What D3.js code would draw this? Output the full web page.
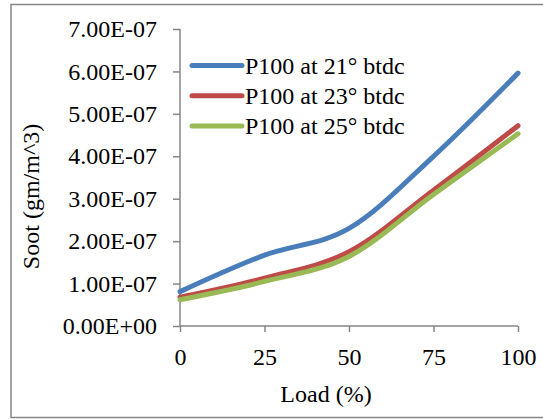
<!DOCTYPE html>
<html>
<head>
	<title>Soot vs Load</title>
</head>
<style type="text/css">
	html, body {margin:0px; padding:0px; background:#fff;}
	svg {display:block;}
	text {font-family: "Liberation Serif", "Times New Roman", serif; fill:#000;}
</style>
<body>

	<svg width="543" height="419"></svg>

<script src="https://d3js.org/d3.v7.min.js"></script>
<script type="text/javascript">

	// data
	const load = [0, 25, 50, 75, 100];
	const p21 = [8.1e-8, 1.67e-7, 2.30e-7, 4.0e-7, 5.96e-7];
	const p23 = [6.8e-8, 1.13e-7, 1.75e-7, 3.2e-7, 4.72e-7];
	const p25 = [6.2e-8, 1.05e-7, 1.64e-7, 3.1e-7, 4.53e-7];
	const seriesNames = ['P100 at 21\u00b0 btdc', 'P100 at 23\u00b0 btdc', 'P100 at 25\u00b0 btdc'];
	const seriesCols = ['#4a7ebb', '#be4b48', '#98b954'];
	const yTicks = [0, 1e-7, 2e-7, 3e-7, 4e-7, 5e-7, 6e-7, 7e-7];
	const xTicks = [0, 25, 50, 75, 100];

	const svg = d3.select('svg');
	const axisCol = '#868686';

	// outer chart border (right edge is cut off in the original)
	svg.append('rect')
		.attr('x', 11).attr('y', 4.5)
		.attr('width', 560).attr('height', 413)
		.attr('fill', '#fff')
		.attr('stroke', axisCol)
		.attr('stroke-width', 1.5);

	let x = d3.scaleLinear().domain([0, 100]).range([180, 518]);
	let y = d3.scaleLinear().domain([0, 7e-7]).range([326, 29]);

	function fmt(v) {
		if (v === 0) return '0.00E+00';
		let s = v.toExponential(2).toUpperCase();   // e.g. 1.00E-7
		return s.replace(/E([+-])(\d)$/, 'E$10$2');
	}

	// y axis
	let yAxis = d3.axisLeft(y).tickValues(yTicks).tickSize(7).tickPadding(16).tickFormat(fmt);
	let gy = svg.append('g').attr('transform', 'translate(180,0)').call(yAxis);

	// x axis
	let xAxis = d3.axisBottom(x).tickValues(xTicks).tickSize(6).tickPadding(16).tickFormat(d3.format('d'));
	let gx = svg.append('g').attr('transform', 'translate(0,326)').call(xAxis);

	[gy, gx].forEach(function(g) {
		g.select('.domain').attr('stroke', axisCol).attr('stroke-width', 1.5);
		g.selectAll('.tick line').attr('stroke', axisCol).attr('stroke-width', 1.5);
		g.selectAll('.tick text')
			.attr('fill', '#000')
			.style('font-family', '"Liberation Serif", serif')
			.style('font-size', '24px');
	});
	gy.select('.domain').attr('d', 'M0,' + y(7e-7) + 'V' + y(0));
	gx.select('.domain').attr('d', 'M' + x(0) + ',0H' + x(100));

	// curves
	let line = d3.line()
		.x(function(d) { return x(d[0]); })
		.y(function(d) { return y(d[1]); })
		.curve(d3.curveCatmullRom.alpha(0));

	[p21, p23, p25].forEach(function(vals, i) {
		let pts = load.map(function(l, j) { return [l, vals[j]]; });
		svg.append('path')
			.attr('d', line(pts))
			.attr('fill', 'none')
			.attr('stroke', seriesCols[i])
			.attr('stroke-width', 5)
			.attr('stroke-linecap', 'round')
			.attr('stroke-linejoin', 'round');
	});

	// legend
	let legend = svg.append('g');
	seriesNames.forEach(function(name, i) {
		let ly = 65.5 + i * 30.2;
		legend.append('line')
			.attr('x1', 192).attr('x2', 242)
			.attr('y1', ly).attr('y2', ly)
			.attr('stroke', seriesCols[i])
			.attr('stroke-width', 5)
			.attr('stroke-linecap', 'round');
		legend.append('text')
			.attr('x', 245).attr('y', ly + 8)
			.style('font-size', '24px')
			.text(name);
	});

	// axis titles
	svg.append('text')
		.attr('x', 326).attr('y', 402)
		.attr('text-anchor', 'middle')
		.style('font-size', '24px')
		.text('Load (%)');

	svg.append('text')
		.attr('transform', 'translate(39,196.5) rotate(-90)')
		.attr('text-anchor', 'middle')
		.style('font-size', '24px')
		.text('Soot (gm/m^3)');

</script>
</body>
</html>
